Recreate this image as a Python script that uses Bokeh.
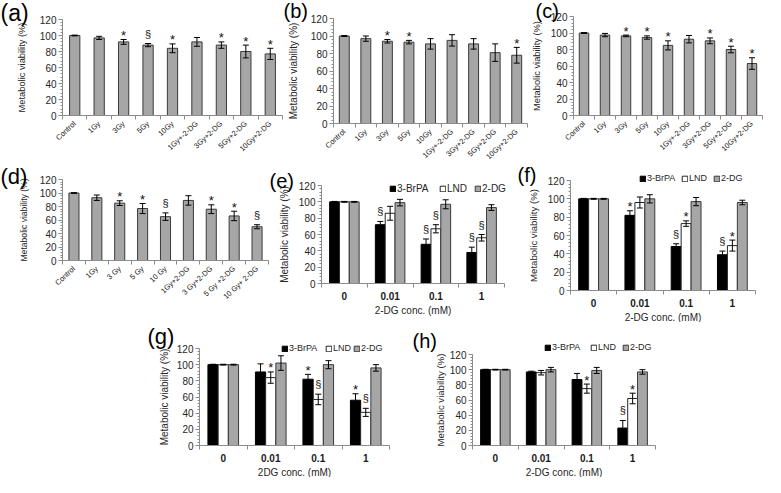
import math
from bokeh.plotting import figure
from bokeh.models import (Range1d, FixedTicker, SingleIntervalTicker, Whisker,
                          ColumnDataSource, Label, Legend, LegendItem, TeeHead, Spacer)
from bokeh.layouts import column, row
from bokeh.embed import file_html
from bokeh.resources import INLINE

# ---------------- data ----------------
labels_abc = ["Control", "1Gy", "3Gy", "5Gy", "10Gy", "1Gy+-2-DG", "3Gy+2-DG", "5Gy+2-DG", "10Gy+2-DG"]
labels_d = ["Control", "1Gy", "3 Gy", "5 Gy", "10 Gy", "1Gy+2-DG", "3 Gy+2-DG", "5 Gy +2-DG", "10 Gy+ 2-DG"]

a_vals = [100, 97, 92, 88, 84, 92, 88, 80, 77]
a_err = [0.5, 2, 3, 2, 5.5, 5.5, 4, 8, 7]
a_sig = ["", "", "*", "§", "*", "", "*", "*", "*"]

b_vals = [100, 97, 94, 93, 91, 95, 91, 81, 78]
b_err = [0.5, 3, 2, 2, 6, 6.5, 6, 10, 9]
b_sig = ["", "", "*", "*", "", "", "", "", "*"]

c_vals = [100, 97.5, 96.5, 94.5, 85, 92.5, 90.5, 80, 63]
c_err = [0.5, 2, 1, 2, 5.5, 4.5, 3.5, 4, 7]
c_sig = ["", "", "*", "*", "*", "", "*", "*", "*"]

d_vals = [100, 93, 85, 77, 65, 89, 76, 66, 50]
d_err = [0.5, 4, 3.5, 7.5, 5.5, 7, 6.5, 7, 3]
d_sig = ["", "", "*", "*", "§", "", "*", "*", "§"]

conc_labels = ["0", "0.01", "0.1", "1"]
series_names = ["3-BrPA", "LND", "2-DG"]

e_brpa = [100, 72, 48, 38];  e_brpa_err = [0.5, 4, 6.5, 6.5]; e_brpa_sig = ["", "§", "§", "§"]
e_lnd = [100, 86, 67, 56];   e_lnd_err = [0.5, 8.5, 5, 4];    e_lnd_sig = ["", "", "§", "§"]
e_dg = [100, 99, 97, 93];    e_dg_err = [0.5, 4, 5.5, 3.5];   e_dg_sig = ["", "", "", ""]

f_brpa = [100, 82, 48, 39];  f_brpa_err = [0.5, 5, 3, 4];     f_brpa_sig = ["", "*", "§", "§"]
f_lnd = [100, 96, 73, 49];   f_lnd_err = [0.5, 6, 3, 6];      f_lnd_sig = ["", "", "*", "*"]
f_dg = [100, 100, 97, 96];   f_dg_err = [0.5, 4.5, 4.5, 2.5]; f_dg_sig = ["", "", "", ""]

g_brpa = [100, 91, 82, 56];  g_brpa_err = [0.5, 10, 6, 8];    g_brpa_sig = ["", "", "*", "*"]
g_lnd = [100, 84, 57, 41];   g_lnd_err = [0.5, 7, 6.5, 5];    g_lnd_sig = ["", "*", "§", "§"]
g_dg = [100, 102, 100, 96];  g_dg_err = [0.5, 9, 5, 4];       g_dg_sig = ["", "", "", ""]

h_brpa = [100, 97, 87, 23];  h_brpa_err = [0.5, 1, 8, 10];    h_brpa_sig = ["", "", "", "§"]
h_lnd = [100, 96, 75, 62];   h_lnd_err = [0.5, 3, 6, 7];      h_lnd_sig = ["", "", "*", "*"]
h_dg = [100, 100, 99, 97];   h_dg_err = [0.5, 3, 4, 3];       h_dg_sig = ["", "", "", ""]

# ---------------- style ----------------
FONT = "Liberation Sans"
TXT = "#262626"
AXC = "#8c8c8c"
GRAY = "#a6a6a6"
EDGE = "#3a3a3a"
SERIES_FILL = ["#000000", "#ffffff", GRAY]
SERIES_LINE = ["#000000", "#262626", EDGE]
YMAX = 120


def make_fig(cfg, n):
    """Figure whose frame fills the canvas; axes are pinned inside it."""
    x0, y0, w, h = cfg["canvas"]
    fl, ft, fr, fb = cfg["frame"]
    ppx = (fr - fl) / n
    ppy = (fb - ft) / YMAX
    xr = Range1d(-0.5 - (fl - x0) / ppx, n - 0.5 + (x0 + w - fr) / ppx)
    yr = Range1d(-(y0 + h - fb) / ppy, YMAX + (ft - y0) / ppy)
    p = figure(width=w, height=h, x_range=xr, y_range=yr,
               output_backend="svg", toolbar_location=None, title=None,
               min_border_left=0, min_border_right=0, min_border_top=0, min_border_bottom=0)
    p.outline_line_color = None
    p.grid.visible = False
    p.background_fill_color = "white"
    p.border_fill_color = "white"
    yax = p.yaxis[0]
    yax.fixed_location = -0.5
    yax.bounds = (0, YMAX)
    yax.ticker = SingleIntervalTicker(interval=20, num_minor_ticks=5)
    yax.axis_label = "Metabolic viability (%)"
    yax.axis_label_text_font = FONT
    yax.axis_label_text_font_size = cfg["ylab_size"]
    yax.axis_label_text_font_style = "normal"
    yax.axis_label_text_color = TXT
    yax.axis_label_standoff = cfg["ylab_standoff"]
    yax.major_label_text_font = FONT
    yax.major_label_text_font_size = "10px"
    yax.major_label_text_color = TXT
    yax.major_label_standoff = 2
    yax.axis_line_color = AXC
    yax.major_tick_line_color = AXC
    yax.minor_tick_line_color = AXC
    yax.major_tick_out = 4
    yax.major_tick_in = 0
    yax.minor_tick_out = 2
    yax.minor_tick_in = 0
    xax = p.xaxis[0]
    xax.fixed_location = 0
    xax.bounds = (-0.5, n - 0.5)
    xax.ticker = FixedTicker(ticks=list(range(n)), minor_ticks=[i - 0.5 for i in range(n + 1)])
    xax.axis_line_color = AXC
    xax.minor_tick_line_color = AXC
    xax.major_tick_out = 0
    xax.major_tick_in = 0
    xax.minor_tick_out = 4
    xax.minor_tick_in = 0
    xax.major_label_text_font = FONT
    xax.major_label_text_color = "#1a1a1a"
    # panel tag
    tx, ty = cfg["tag_pos"]
    p.add_layout(Label(x=tx - x0, y=(y0 + h) - ty, x_units="screen", y_units="screen",
                       text=cfg["tag"], text_font=FONT, text_font_size=cfg["tag_size"],
                       text_baseline="top", text_align="left", text_color="black"))
    return p


def add_errors(p, xs, vals, errs):
    src = ColumnDataSource(dict(base=xs, lower=[v - e for v, e in zip(vals, errs)],
                                upper=[v + e for v, e in zip(vals, errs)]))
    w = Whisker(source=src, base="base", upper="upper", lower="lower",
                line_color="black", line_width=1, level="overlay",
                upper_head=TeeHead(size=6, line_color="black", line_width=1),
                lower_head=TeeHead(size=6, line_color="black", line_width=1))
    p.add_layout(w)


def add_marks(p, xs, vals, errs, sigs):
    sx, sy, qx, qy = [], [], [], []
    for x, v, e, s in zip(xs, vals, errs, sigs):
        if s == "*":
            sx.append(x); sy.append(v + e)
        elif s == "§":
            qx.append(x); qy.append(v + e)
    if sx:
        p.text(x=sx, y=sy, text=["*"] * len(sx), text_font={"value": FONT},
               text_font_size="13px", text_align="center", text_baseline="middle",
               y_offset=-4, text_color="#111111")
    if qx:
        p.text(x=qx, y=qy, text=["§"] * len(qx), text_font={"value": FONT},
               text_font_size="11px", text_align="center", text_baseline="middle",
               y_offset=-10, text_color="#111111")


def single_panel(cats, vals, errs, sigs, cfg):
    n = len(cats)
    xs = list(range(n))
    p = make_fig(cfg, n)
    xax = p.xaxis[0]
    xax.major_label_overrides = {i: c for i, c in enumerate(cats)}
    xax.major_label_orientation = 0.75
    xax.major_label_text_font_size = "7.5px"
    xax.major_label_standoff = 3
    p.vbar(x=xs, top=vals, width=cfg["bar_w"], fill_color=GRAY, line_color=EDGE, line_width=1)
    add_errors(p, xs, vals, errs)
    add_marks(p, xs, vals, errs, sigs)
    return p


def group_panel(cats, series, cfg):
    n = len(cats)
    groups = list(range(n))
    p = make_fig(cfg, n)
    xax = p.xaxis[0]
    xax.major_label_overrides = {i: c for i, c in enumerate(cats)}
    xax.major_label_text_font_size = "10px"
    xax.major_label_text_font_style = "bold"
    xax.major_label_standoff = 4
    xax.axis_label = cfg["xlabel"]
    xax.axis_label_text_font = FONT
    xax.axis_label_text_font_size = "10px"
    xax.axis_label_text_font_style = "normal"
    xax.axis_label_text_color = TXT
    xax.axis_label_standoff = 2
    bw = 0.215
    rends = []
    for k, (vals, errs, sigs) in enumerate(series):
        xs = [g + (k - 1) * bw for g in groups]
        r = p.vbar(x=xs, top=vals, width=bw, fill_color=SERIES_FILL[k],
                   line_color=SERIES_LINE[k], line_width=1)
        rends.append(r)
        add_errors(p, xs, vals, errs)
        add_marks(p, xs, vals, errs, sigs)
    x0, y0, w, h = cfg["canvas"]
    lcy = cfg["legend_y"]
    for nm, r, lx in zip(series_names, rends, cfg["legend_x"]):
        leg = Legend(items=[LegendItem(label=nm, renderers=[r])], orientation="horizontal",
                     location=(lx - x0, (y0 + h) - lcy - 13),
                     glyph_width=7, glyph_height=7, label_standoff=1, spacing=0,
                     padding=0, margin=0, border_line_color=None, background_fill_alpha=0,
                     label_text_font=FONT, label_text_font_size=cfg["legend_size"],
                     label_text_color=TXT, label_height=8, label_width=10,
                     label_text_baseline="middle")
        p.add_layout(leg)
    return p


# ---------------- layout (reference pixel geometry) ----------------
CFG = {
    "a": dict(canvas=(8, 8, 283, 164), frame=(70, 27, 290, 123), tag="(a)", tag_pos=(8, 7),
              tag_size="23px", ylab_size="9.3px", ylab_standoff=10, bar_w=0.42),
    "b": dict(canvas=(291, 8, 246, 164), frame=(341, 26, 535, 131), tag="(b)", tag_pos=(291, 7),
              tag_size="20px", ylab_size="10px", ylab_standoff=9, bar_w=0.46),
    "c": dict(canvas=(537, 8, 236, 164), frame=(581, 24, 770, 123), tag="(c)", tag_pos=(543, 7),
              tag_size="20px", ylab_size="9.3px", ylab_standoff=6, bar_w=0.45),
    "d": dict(canvas=(8, 172, 269, 158), frame=(70, 187, 276, 268), tag="(d)", tag_pos=(8, 171),
              tag_size="22px", ylab_size="8.6px", ylab_standoff=8, bar_w=0.44),
    "e": dict(canvas=(277, 172, 243, 158), frame=(329, 193, 512, 291), tag="(e)", tag_pos=(277, 177),
              tag_size="20px", ylab_size="10px", ylab_standoff=6, xlabel="2-DG conc. (mM)",
              legend_x=(397, 447, 482), legend_y=189, legend_size="10px"),
    "f": dict(canvas=(520, 172, 253, 158), frame=(578, 188, 763, 298), tag="(f)", tag_pos=(525, 171),
              tag_size="20px", ylab_size="9.6px", ylab_standoff=6, xlabel="2-DG conc. (mM)",
              legend_x=(647, 689, 721), legend_y=178, legend_size="9px"),
    "g": dict(canvas=(153, 330, 262, 155), frame=(207, 356, 397, 453), tag="(g)", tag_pos=(155, 331),
              tag_size="22px", ylab_size="10px", ylab_standoff=4, xlabel="2DG conc. (mM)",
              legend_x=(289, 333, 361), legend_y=348, legend_size="9px"),
    "h": dict(canvas=(415, 330, 265, 155), frame=(480, 362, 663, 453), tag="(h)", tag_pos=(420, 337),
              tag_size="20px", ylab_size="9.6px", ylab_standoff=1, xlabel="2-DG conc. (mM)",
              legend_x=(552, 598, 630), legend_y=347, legend_size="9px"),
}

pa = single_panel(labels_abc, a_vals, a_err, a_sig, CFG["a"])
pb = single_panel(labels_abc, b_vals, b_err, b_sig, CFG["b"])
pc = single_panel(labels_abc, c_vals, c_err, c_sig, CFG["c"])
pd = single_panel(labels_d, d_vals, d_err, d_sig, CFG["d"])
pe = group_panel(conc_labels, [(e_brpa, e_brpa_err, e_brpa_sig), (e_lnd, e_lnd_err, e_lnd_sig),
                               (e_dg, e_dg_err, e_dg_sig)], CFG["e"])
pf = group_panel(conc_labels, [(f_brpa, f_brpa_err, f_brpa_sig), (f_lnd, f_lnd_err, f_lnd_sig),
                               (f_dg, f_dg_err, f_dg_sig)], CFG["f"])
pg = group_panel(conc_labels, [(g_brpa, g_brpa_err, g_brpa_sig), (g_lnd, g_lnd_err, g_lnd_sig),
                               (g_dg, g_dg_err, g_dg_sig)], CFG["g"])
ph = group_panel(conc_labels, [(h_brpa, h_brpa_err, h_brpa_sig), (h_lnd, h_lnd_err, h_lnd_sig),
                               (h_dg, h_dg_err, h_dg_sig)], CFG["h"])

layout = column(row(pa, pb, pc), row(pd, pe, pf),
                row(Spacer(width=145, height=155), pg, ph))

open("out.html", "w").write(file_html(layout, INLINE))
